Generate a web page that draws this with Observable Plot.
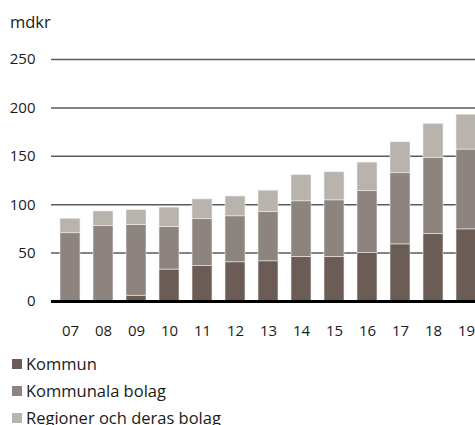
<!DOCTYPE html>
<html>
<head>
<meta charset="utf-8">
<script src="https://cdn.jsdelivr.net/npm/d3@7"></script>
<script src="https://cdn.jsdelivr.net/npm/@observablehq/plot@0.6"></script>
<style>
  html, body { margin: 0; padding: 0; background: #fff; overflow: hidden; width: 475px; height: 425px; }
  body { font-family: "Open Sans", sans-serif; color: #1a1a1a; position: relative; }
  #unit { position: absolute; left: 10px; top: 10px; font-size: 16.5px; }
  #chart { position: absolute; left: 0; top: 0; }
  #chart svg { max-width: none !important; }
  #legend { position: absolute; left: 12px; top: 350px; font-size: 16.5px; }
  .item { display: flex; align-items: center; height: 27px; white-space: nowrap; }
  .sw { width: 10px; height: 10px; margin-right: 4px; display: inline-block; }
</style>
</head>
<body>
<div id="unit">mdkr</div>
<div id="chart"></div>
<div id="legend"></div>
<script>
const years = ["07","08","09","10","11","12","13","14","15","16","17","18","19"];
const kommun = [0, 0, 6, 33, 36.5, 40.5, 41.5, 46, 46, 50, 59, 69.5, 74.5];
const kommunalaBolag = [70.5, 78, 73, 44, 48.5, 47.5, 51, 57.5, 58.5, 64, 73.5, 79, 82.5];
const regioner = [15, 15, 15.5, 20, 20.5, 20.5, 22, 27, 29, 29.5, 32, 35, 36];
const seriesNames = ["Kommun", "Kommunala bolag", "Regioner och deras bolag"];
const colors = ["#6b5d55", "#8d847f", "#b8b3ad"];
const yTicks = [0, 50, 100, 150, 200, 250];

const seriesValues = [kommun, kommunalaBolag, regioner];
const data = [];
seriesNames.forEach((s, i) => years.forEach((y, j) => data.push({year: y, series: s, value: seriesValues[i][j]})));

const plot = Plot.plot({
  width: 485,
  height: 345,
  marginTop: 59,
  marginBottom: 44,
  marginLeft: 51,
  marginRight: 0,
  style: {fontFamily: "Open Sans, sans-serif", fontSize: "15px", color: "#1a1a1a", background: "transparent", maxWidth: "none"},
  x: {domain: years, paddingInner: 0.4, paddingOuter: 0.2, label: null, tickSize: 0, tickPadding: 24},
  y: {domain: [0, 250], ticks: yTicks, label: null, tickSize: 0, tickPadding: 16},
  color: {domain: seriesNames, range: colors},
  marks: [
    Plot.ruleY(yTicks.filter(d => d > 0), {stroke: "#5a5a5a", strokeWidth: 1.5}),
    Plot.barY(data, {x: "year", y: "value", fill: "series", stroke: "#eeeeee", strokeWidth: 0.6}),
    Plot.ruleY([0], {stroke: "#000", strokeWidth: 3}),
    Plot.axisX({tickSize: 0, tickPadding: 24, fontSize: 15}),
    Plot.axisY({ticks: yTicks, tickSize: 0, tickPadding: 16, fontSize: 15})
  ]
});
document.getElementById("chart").appendChild(plot);

const legend = document.getElementById("legend");
seriesNames.forEach((s, i) => {
  const item = document.createElement("div");
  item.className = "item";
  const sw = document.createElement("span");
  sw.className = "sw";
  sw.style.background = colors[i];
  const t = document.createElement("span");
  t.textContent = s;
  item.appendChild(sw);
  item.appendChild(t);
  legend.appendChild(item);
});
</script>
</body>
</html>
